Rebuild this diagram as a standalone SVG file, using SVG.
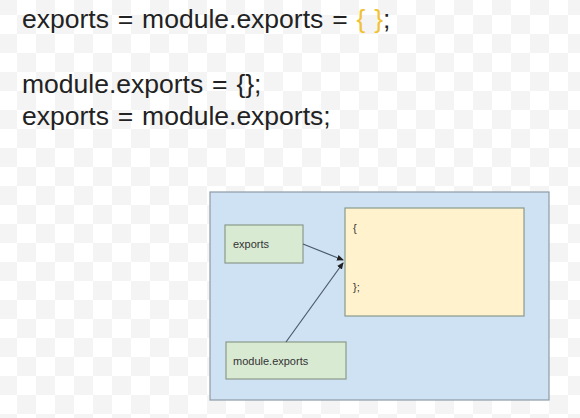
<svg xmlns="http://www.w3.org/2000/svg" width="580" height="418" viewBox="0 0 580 418">
  <defs>
    <pattern id="checker" width="38" height="38" patternUnits="userSpaceOnUse" x="-2" y="-4">
      <rect width="38" height="38" fill="#ffffff"/>
      <rect width="19" height="19" fill="#f4f4f5"/>
      <rect x="19" y="19" width="19" height="19" fill="#f4f4f5"/>
    </pattern>
    <marker id="arrow" markerWidth="8" markerHeight="8" refX="6" refY="4" orient="auto" markerUnits="userSpaceOnUse">
      <path d="M0,1 L7,4 L0,7 Z" fill="#222"/>
    </marker>
  </defs>
  <style>
    .code { font-family: "Liberation Sans", Arial, sans-serif; font-size: 26.5px; word-spacing: 1.5px; fill: #222; }
    .brace { fill: #f1c232; }
    .box { stroke: #8a9a8a; stroke-width: 1.2; }
    .label { font-family: "Liberation Sans", Arial, sans-serif; font-size: 11px; fill: #333; }
    .link { stroke: #4a5a6a; stroke-width: 1.2; fill: none; }
  </style>

  <rect width="580" height="418" fill="url(#checker)"/>

  <!-- code listing -->
  <text class="code" x="22" y="28">exports = module.exports = <tspan class="brace">{ }</tspan>;</text>
  <text class="code" x="22" y="93">module.exports = {};</text>
  <text class="code" x="22" y="125">exports = module.exports;</text>

  <!-- module scope -->
  <g id="scope">
    <rect x="210" y="192" width="339" height="208" fill="#cfe2f3" stroke="#8f9aa5" stroke-width="1.2"/>
  </g>

  <g id="object">
    <rect class="box" x="345" y="208" width="179" height="108" fill="#fff2cc" stroke="#a8a090"/>
    <text class="label" x="353" y="232">{</text>
    <text class="label" x="353" y="291">};</text>
  </g>

  <g id="exports">
    <rect class="box" x="225" y="225" width="78" height="38" fill="#d9ead3"/>
    <text class="label" x="233" y="248">exports</text>
  </g>

  <g id="module-exports">
    <rect class="box" x="226" y="342" width="120" height="37" fill="#d9ead3"/>
    <text class="label" x="233" y="365">module.exports</text>
  </g>

  <g id="connectors">
    <line class="link" x1="303" y1="244" x2="343" y2="260" marker-end="url(#arrow)"/>
    <line class="link" x1="286" y1="342" x2="343" y2="263" marker-end="url(#arrow)"/>
  </g>
</svg>
